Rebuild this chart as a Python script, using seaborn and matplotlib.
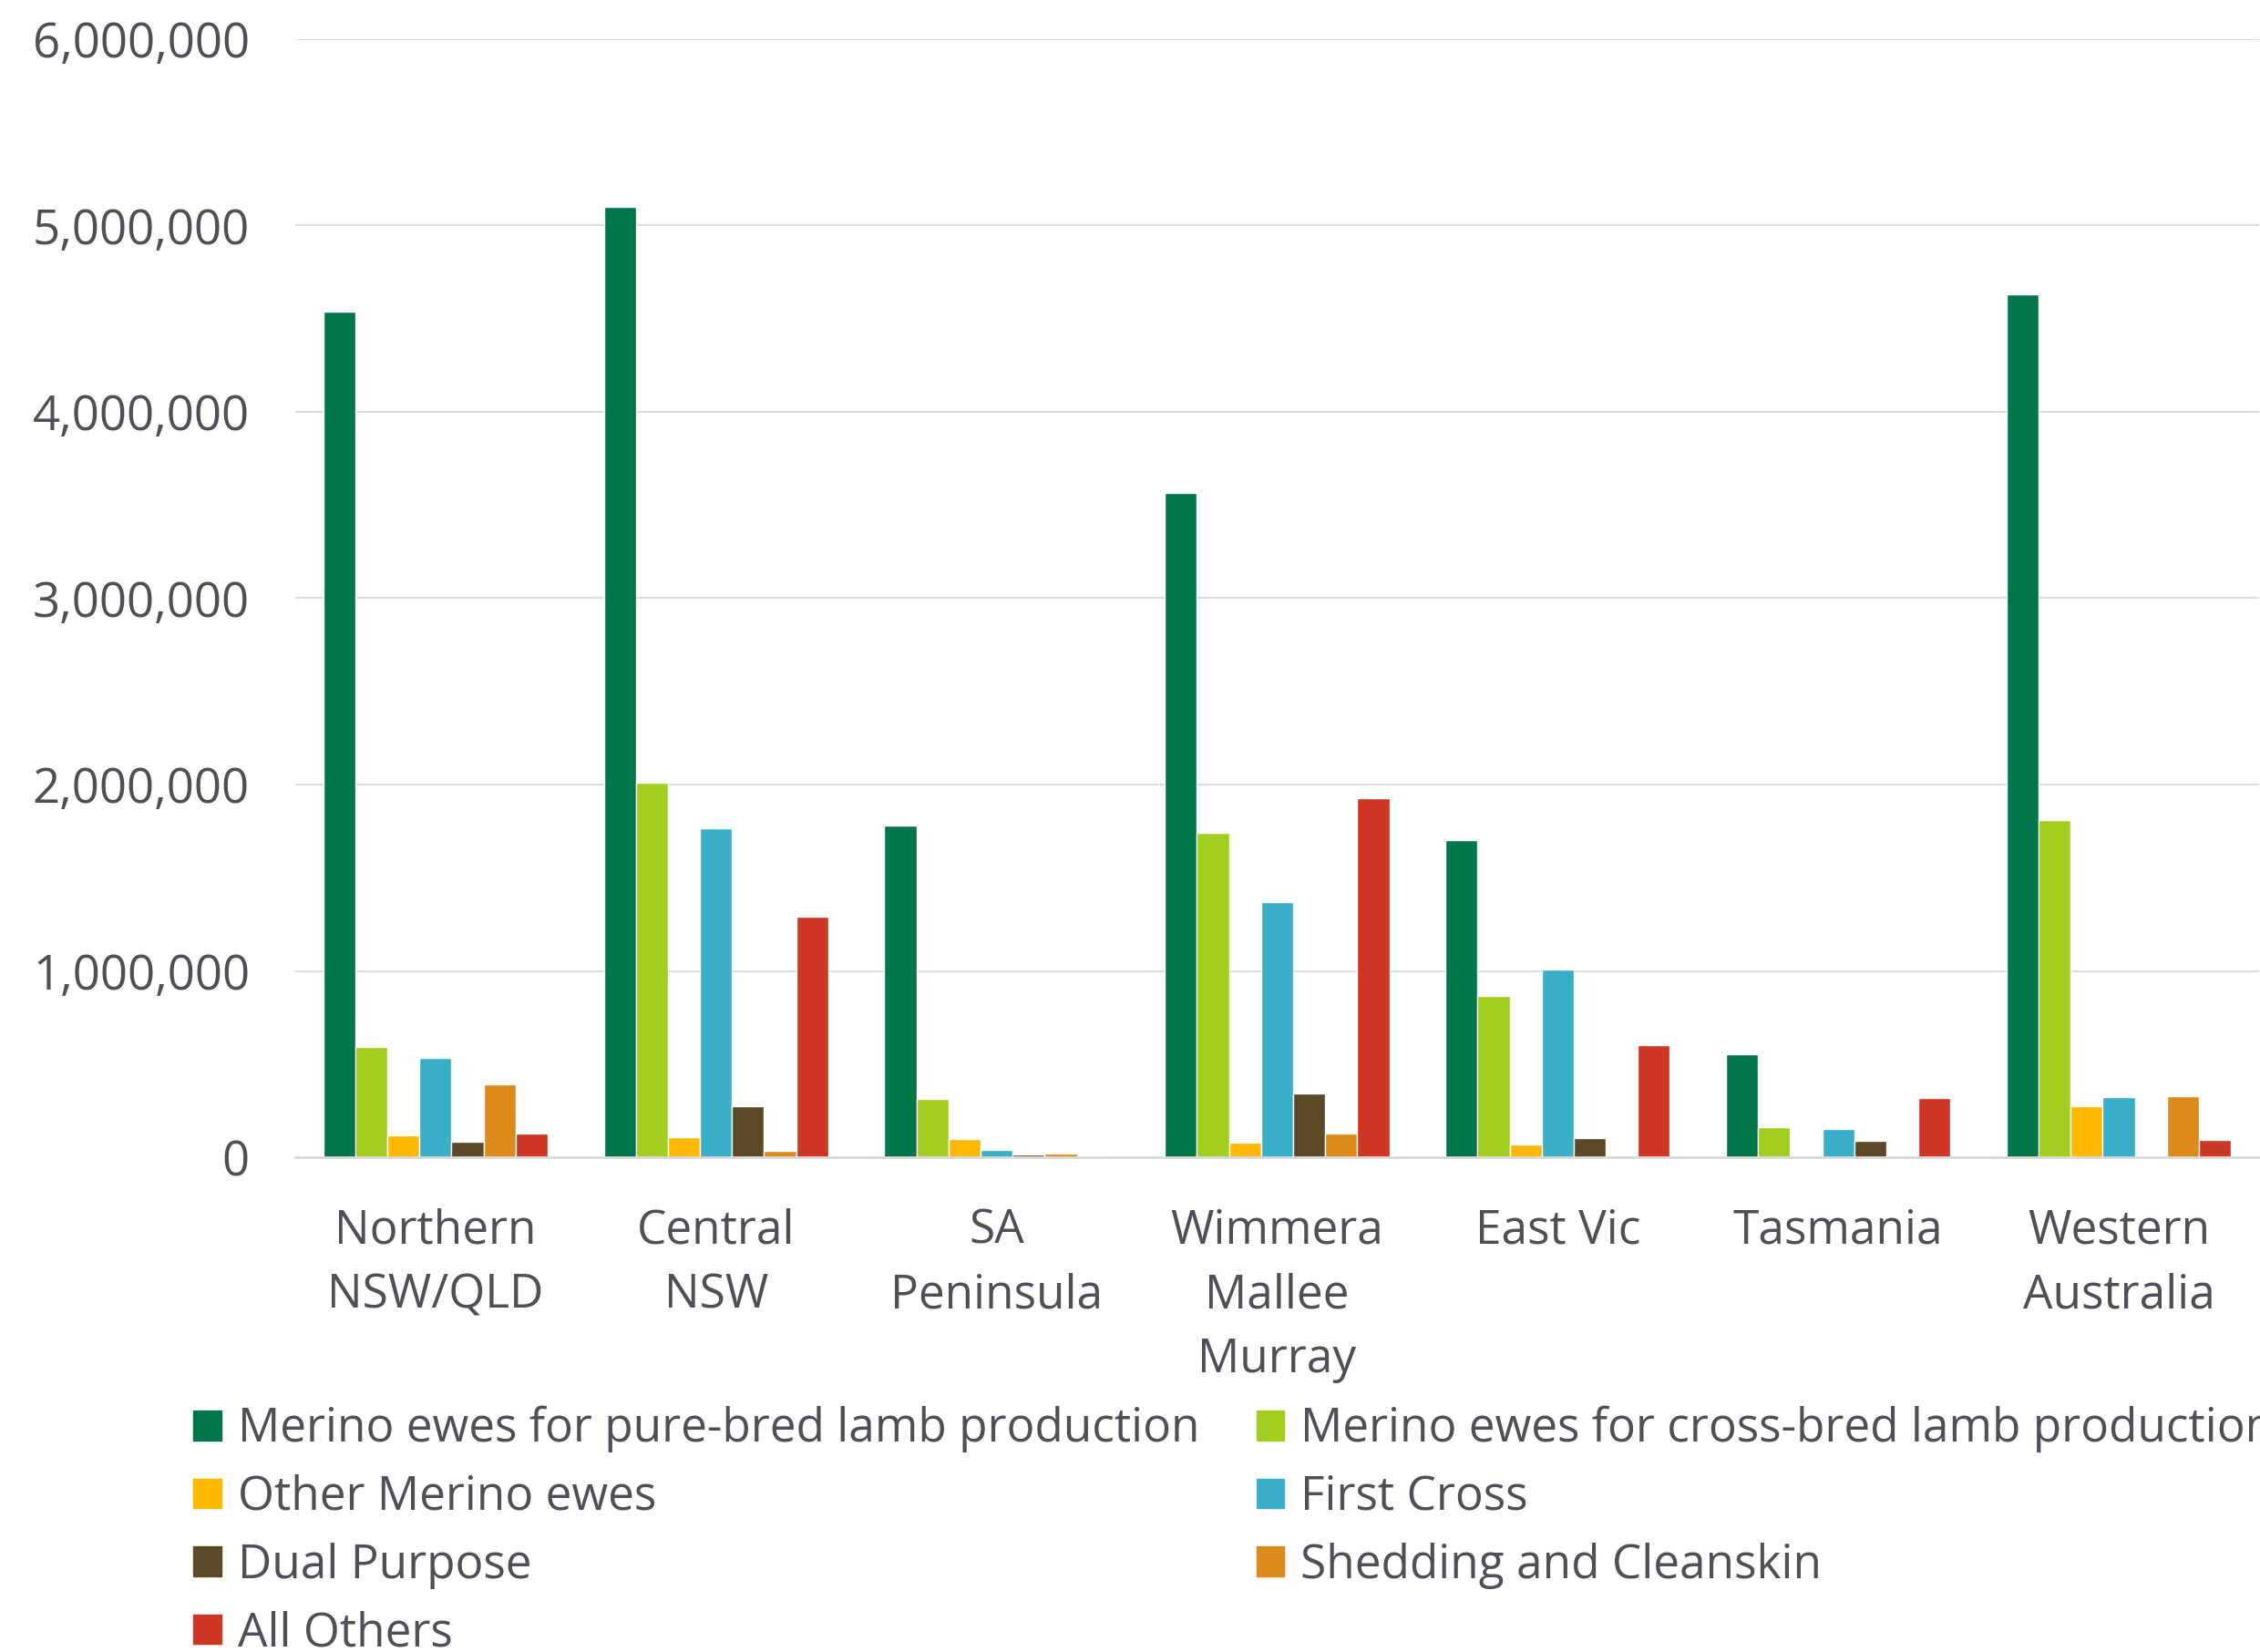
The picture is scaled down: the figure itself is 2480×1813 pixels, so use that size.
import pandas as pd
import matplotlib
matplotlib.use("Agg")
import matplotlib.pyplot as plt
import matplotlib.patches as mpatches
from matplotlib.ticker import FuncFormatter
import seaborn as sns

# -------------------------
# Data
# -------------------------
regions = ["Northern\nNSW/QLD", "Central\nNSW", "SA\nPeninsula", "Wimmera\nMallee\nMurray",
           "East Vic", "Tasmania", "Western\nAustralia"]

series_names = [
    "Merino ewes for pure-bred lamb production",
    "Merino ewes for cross-bred lamb production",
    "Other Merino ewes",
    "First Cross",
    "Dual Purpose",
    "Shedding and Cleanskin",
    "All Others",
]

pure_bred = [4540000, 5100000, 1780000, 3565000, 1700000, 554000, 4630000]
cross_bred = [593000, 2010000, 315000, 1740000, 866000, 163000, 1810000]
other_merino = [119000, 109000, 99000, 80000, 67000, 0, 275000]
first_cross = [531000, 1763000, 41000, 1369000, 1005000, 152000, 324000]
dual_purpose = [83000, 272000, 15000, 342000, 103000, 90000, 5000]
shedding = [393000, 36000, 21000, 129000, 11000, 0, 326000]
all_others = [129000, 1290000, 5000, 1926000, 601000, 319000, 95000]

colors = ["#00764A", "#A2CF1F", "#FFB800", "#3AB0C8", "#5C4A26", "#DC8A1B", "#CD3525"]

# -------------------------
# Long-form table
# -------------------------
all_series = [pure_bred, cross_bred, other_merino, first_cross, dual_purpose, shedding, all_others]
rows = []
for name, vals in zip(series_names, all_series):
    for reg, v in zip(regions, vals):
        rows.append({"region": reg, "type": name, "ewes": v})
df = pd.DataFrame(rows)

# -------------------------
# Plot
# -------------------------
sns.set_style("white")
plt.rcParams["font.family"] = ["Open Sans", "DejaVu Sans"]
text_color = "#4D5056"
fs = 37

fig = plt.figure(figsize=(24.8, 18.13), dpi=100)
ax = fig.add_axes([0.1306, 0.2995, 0.869, 0.6768])

sns.barplot(
    data=df, x="region", y="ewes", hue="type",
    order=regions, hue_order=series_names, palette=colors, saturation=1,
    width=0.8, edgecolor="white", linewidth=1.0, legend=False, ax=ax,
)

ax.set_xlim(-0.5, 6.5)
ax.set_ylim(0, 6000000)
ax.set_yticks(range(0, 6000001, 1000000))
ax.yaxis.set_major_formatter(FuncFormatter(lambda v, p: f"{int(v):,}"))
ax.grid(axis="y", color="#D9D9D9", linewidth=1.3)
ax.set_axisbelow(True)
for side in ["left", "right", "top"]:
    ax.spines[side].set_visible(False)
ax.spines["bottom"].set_color("#D9D9D9")
ax.spines["bottom"].set_linewidth(2)
ax.tick_params(axis="both", length=0, labelsize=fs, colors=text_color)
ax.tick_params(axis="y", pad=36, labelsize=38)
ax.tick_params(axis="x", pad=40)
for lbl in ax.get_xticklabels():
    lbl.set_linespacing(1.5)
ax.set_xlabel("")
ax.set_ylabel("")

# Legend, row-major order as in the reference
handles = [mpatches.Patch(color=c) for c in colors]
order = [0, 2, 4, 6, 1, 3, 5]
fig.legend(
    [handles[i] for i in order], [series_names[i] for i in order],
    loc="upper left", bbox_to_anchor=(0.0855, 0.149), ncol=2, frameon=False,
    fontsize=fs, labelcolor=text_color, handlelength=0.6, handleheight=0.6,
    handletextpad=0.35, labelspacing=0.46, columnspacing=1.21,
    borderpad=0, borderaxespad=0,
)

fig.savefig("out.png", dpi=100)
